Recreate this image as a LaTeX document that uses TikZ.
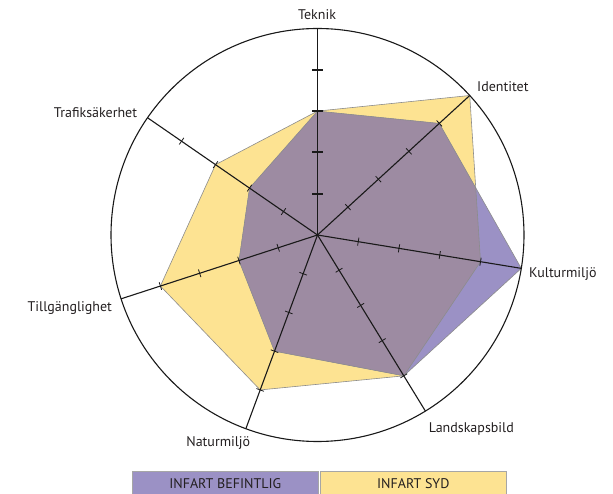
\documentclass[tikz,border=0pt]{standalone}
\usepackage{fontspec}
\setmainfont{PT Sans}
\usetikzlibrary{calc}
\definecolor{ylw}{RGB}{253,227,146}
\definecolor{pur}{RGB}{155,145,197}
\definecolor{ovl}{RGB}{157,139,162}
\definecolor{txt}{RGB}{35,31,32}
\begin{document}
\begin{tikzpicture}[x=1pt,y=1pt,
  lbl/.style={font=\fontsize{14}{16}\selectfont, text=txt, inner sep=0pt},
  axisline/.style={line width=1.1pt, draw=black!90},
  tickline/.style={line width=0.8pt, draw=black!90},
  tektick/.style={line width=1.8pt, draw=black!90},
  poly/.style={draw=black!45, line width=0.6pt},
  legbox/.style={draw=black!35, line width=1pt}]
\useasboundingbox (0,0) rectangle (613,493);
\coordinate (C) at (317.5,258);
\def\R{206.5}
\foreach \n/\a in {tek/90, ide/42.5, kul/-9.3, lan/-58.5, nat/-110.3, til/-162, tra/145.4} {
  \foreach \k in {1,...,5} {
    \coordinate (\n\k) at ($(C)+(\a:{\k*41.3})$);
  }
}
% data polygons
\fill[ylw] (tek3)--(ide5)--(kul4)--(lan4)--(nat4)--(til4)--(tra3)--cycle;
\fill[pur] (tek3)--(ide4)--(kul5)--(lan4)--(nat3)--(til2)--(tra2)--cycle;
\begin{scope}
  \clip (tek3)--(ide5)--(kul4)--(lan4)--(nat4)--(til4)--(tra3)--cycle;
  \fill[ovl] (tek3)--(ide4)--(kul5)--(lan4)--(nat3)--(til2)--(tra2)--cycle;
\end{scope}
\draw[poly] (tek3)--(ide5)--(kul4)--(lan4)--(nat4)--(til4)--(tra3)--cycle;
\draw[poly] (tek3)--(ide4)--(kul5)--(lan4)--(nat3)--(til2)--(tra2)--cycle;
% circle and axes
\draw[axisline] (C) circle (\R);
\foreach \n in {tek, ide, kul, lan, nat, til, tra} {
  \draw[axisline] (C) -- (\n5);
}
\foreach \n/\a in {ide/42.5, kul/-9.3, lan/-58.5, nat/-110.3, til/-162, tra/145.4} {
  \foreach \k in {1,...,4} {
    \draw[tickline] ($(\n\k)+(\a+90:4)$) -- ($(\n\k)+(\a-90:4)$);
  }
}
\foreach \k in {1,...,4} {
  \draw[tektick] ($(tek\k)+(-5.5,0)$) -- ($(tek\k)+(5.5,0)$);
}
% labels
\node[lbl, anchor=base] (lteknik) at (317,473) {Teknik};
\node[lbl, anchor=base west] (lide) at (477,401.3) {Identitet};
\node[lbl, anchor=base west] (lkul) at (529,215.7) {Kulturmiljö};
\node[lbl, anchor=base] (llan) at (471.3,60.3) {Landskapsbild};
\node[lbl, anchor=base] (lnat) at (218.3,47) {Naturmiljö};
\node[lbl, anchor=base] (ltil) at (69.8,181) {Tillgänglighet};
\node[lbl, anchor=base] (ltra) at (95.5,375.7) {Trafiksäkerhet};
% legend
\draw[legbox, fill=pur] (132.3,-3) rectangle (318.3,21.3);
\draw[legbox, fill=ylw] (320.3,-3) rectangle (506.3,21.3);
\node[lbl, anchor=base] (leg1) at (225.3,4.7) {INFART BEFINTLIG};
\node[lbl, anchor=base] (leg2) at (413.3,4.7) {INFART SYD};
\end{tikzpicture}
\end{document}
